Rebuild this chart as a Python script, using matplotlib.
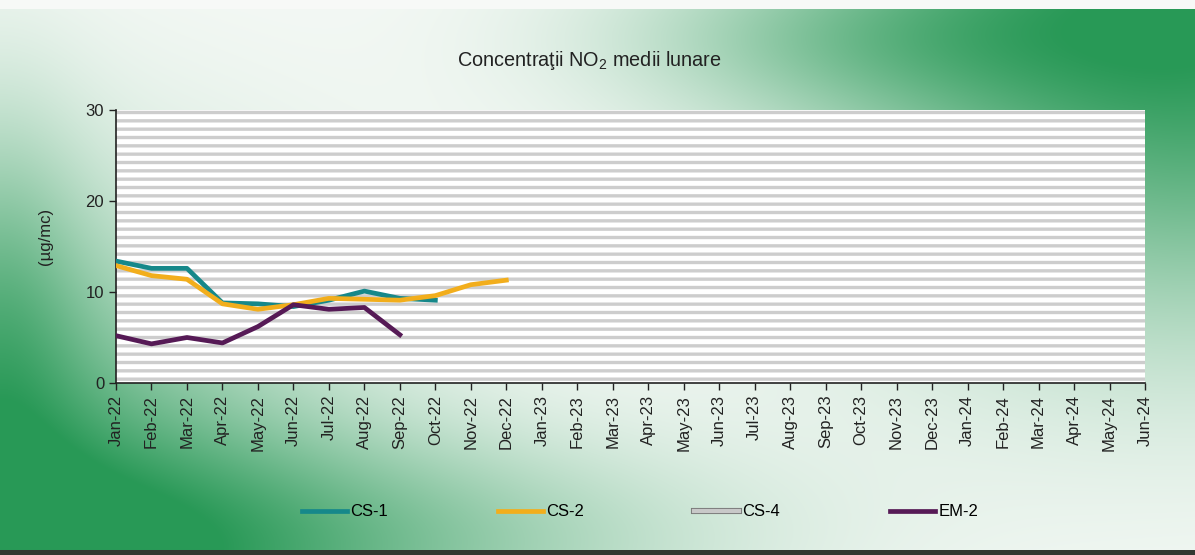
import numpy as np
import matplotlib
matplotlib.use('Agg')
import matplotlib.pyplot as plt
import matplotlib.patheffects as pe
from matplotlib.patches import Rectangle

plt.rcParams['font.family'] = ['Liberation Sans', 'DejaVu Sans']
plt.rcParams['mathtext.fontset'] = 'custom'
plt.rcParams['mathtext.rm'] = 'Liberation Sans'
plt.rcParams['mathtext.it'] = 'Liberation Sans'
plt.rcParams['hatch.linewidth'] = 2.4

# date
luni = ['Jan-22', 'Feb-22', 'Mar-22', 'Apr-22', 'May-22', 'Jun-22', 'Jul-22', 'Aug-22',
        'Sep-22', 'Oct-22', 'Nov-22', 'Dec-22', 'Jan-23', 'Feb-23', 'Mar-23', 'Apr-23',
        'May-23', 'Jun-23', 'Jul-23', 'Aug-23', 'Sep-23', 'Oct-23', 'Nov-23', 'Dec-23',
        'Jan-24', 'Feb-24', 'Mar-24', 'Apr-24', 'May-24', 'Jun-24']
cs1 = [13.4, 12.6, 12.6, 8.8, 8.7, 8.4, 9.1, 10.1, 9.3, 9.1]
cs2 = [12.9, 11.8, 11.4, 8.7, 8.1, 8.6, 9.3, 9.2, 9.1, 9.6, 10.8, 11.3]
cs4 = []
em2 = [5.2, 4.3, 5.0, 4.4, 6.2, 8.6, 8.1, 8.3, 5.3]


def completeaza(v):
    a = np.full(len(luni), np.nan)
    a[:len(v)] = v
    return a


W, H = 1195, 555
fig = plt.figure(figsize=(W / 100, H / 100), dpi=100)

# fundal cu degrade verde
bg = fig.add_axes([0, 0, 1, 1], zorder=-10)
yy, xx = np.mgrid[0:H, 0:W]
w1 = np.exp(-(((xx - 1195) / 380.0) ** 2 + ((yy - 10) / 300.0) ** 2))
w2 = np.exp(-(((xx - 0) / 320.0) ** 2 + ((yy - 600) / 330.0) ** 2))
w3 = 0.45 * np.exp(-(((xx - 350) / 380.0) ** 2 + ((yy - 540) / 110.0) ** 2))
w4 = 0.35 * np.exp(-(((xx - 0) / 90.0) ** 2 + ((yy - 300) / 200.0) ** 2))
w5 = 0.25 * np.exp(-(((xx - 850) / 250.0) ** 2 + ((yy - 40) / 70.0) ** 2))
w = np.clip(w1 + w2 + w3 + w4 + w5, 0, 1)
verde = np.array([0.16, 0.60, 0.34])
alb = np.array([0.97, 0.98, 0.97])
img = alb[None, None, :] * (1 - w[..., None]) + verde[None, None, :] * w[..., None]
img[:9, :, :] = [0.97, 0.98, 0.97]
img[550:, :, :] = [0.2, 0.22, 0.2]
bg.imshow(img, aspect='auto', extent=[0, 1, 0, 1])
bg.axis('off')

ax = fig.add_axes([116 / W, 1 - 383 / H, (1145 - 116) / W, (383 - 110) / H])
ax.set_facecolor('white')
ax.add_patch(Rectangle((0, 0), 1, 1, transform=ax.transAxes, facecolor='white',
                       edgecolor='#cdcdcd', hatch='--', linewidth=0, zorder=0))

x = np.arange(len(luni))
ax.plot(x, completeaza(cs1), color='#16888a', lw=3.4, label='CS-1', zorder=3)
ax.plot(x, completeaza(cs2), color='#f2ae1c', lw=3.4, label='CS-2', zorder=4)
ax.plot(x, completeaza(cs4), color='#c8c8c8', lw=3.0, label='CS-4', zorder=2,
        path_effects=[pe.withStroke(linewidth=4.4, foreground='#7a7a7a')])
ax.plot(x, completeaza(em2), color='#561a56', lw=3.4, label='EM-2', zorder=5)

ax.set_xlim(0, len(luni) - 1)
ax.set_ylim(0, 30)
ax.set_yticks([0, 10, 20, 30])
ax.set_xticks(x)
ax.set_xticklabels(luni, rotation=90)
ax.tick_params(axis='both', direction='out', length=5, width=1, colors='#222222',
               labelsize=12)
for s in ['top', 'right']:
    ax.spines[s].set_visible(False)
for s in ['left', 'bottom']:
    ax.spines[s].set_color('#222222')
    ax.spines[s].set_linewidth(1.2)

fig.text(45 / W, 1 - 236 / H, '(µg/mc)', rotation=90, ha='center', va='center',
         fontsize=12, color='#222222')
fig.text(589 / W, 1 - 60 / H, 'Concentraţii NO$_2$ medii lunare', ha='center',
         va='center', fontsize=14.3, color='#222222')

fig.legend(loc='center', bbox_to_anchor=(640 / W, 1 - 512 / H), ncol=4, frameon=False,
           handlelength=2.7, columnspacing=6.6, handletextpad=0.2, fontsize=12)

fig.savefig('out.png', dpi=100)
